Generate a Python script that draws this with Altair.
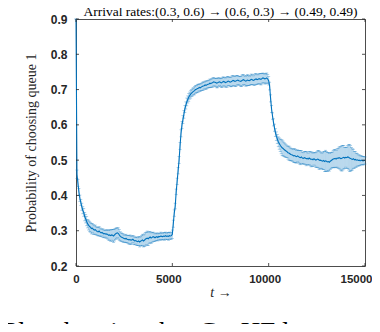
import altair as alt
import pandas as pd

# time step of the samples
t_step = 50

# mean probability, rows of 10 samples (500 time units per row)
prob = [
    0.900, 0.460, 0.435, 0.410, 0.392, 0.380, 0.368, 0.358, 0.352, 0.340,
    0.334, 0.327, 0.320, 0.316, 0.312, 0.310, 0.306, 0.307, 0.304, 0.302,
    0.303, 0.300, 0.298, 0.297, 0.299, 0.296, 0.294, 0.295, 0.293, 0.291,
    0.292, 0.290, 0.291, 0.289, 0.287, 0.288, 0.286, 0.288, 0.287, 0.285,
    0.288, 0.291, 0.293, 0.294, 0.292, 0.288, 0.284, 0.282, 0.281, 0.279,
    0.278, 0.277, 0.278, 0.276, 0.275, 0.274, 0.275, 0.273, 0.274, 0.276,
    0.273, 0.271, 0.272, 0.270, 0.269, 0.271, 0.268, 0.270, 0.272, 0.274,
    0.271, 0.273, 0.276, 0.278, 0.279, 0.277, 0.280, 0.282, 0.279, 0.281,
    0.283, 0.282, 0.280, 0.282, 0.283, 0.281, 0.284, 0.283, 0.285, 0.284,
    0.283, 0.285, 0.284, 0.286, 0.284, 0.285, 0.284, 0.286, 0.285, 0.286,
    0.290, 0.320, 0.350, 0.370, 0.410, 0.440, 0.470, 0.500, 0.540, 0.576,
    0.600, 0.615, 0.630, 0.645, 0.655, 0.665, 0.672, 0.678, 0.683, 0.687,
    0.690, 0.693, 0.695, 0.697, 0.700, 0.701, 0.703, 0.704, 0.706, 0.705,
    0.707, 0.709, 0.710, 0.711, 0.713, 0.712, 0.714, 0.715, 0.716, 0.718,
    0.717, 0.719, 0.720, 0.722, 0.721, 0.720, 0.718, 0.719, 0.721, 0.722,
    0.720, 0.719, 0.721, 0.723, 0.722, 0.720, 0.721, 0.722, 0.724, 0.723,
    0.721, 0.722, 0.724, 0.726, 0.725, 0.723, 0.724, 0.726, 0.727, 0.725,
    0.724, 0.723, 0.725, 0.727, 0.728, 0.726, 0.724, 0.725, 0.727, 0.726,
    0.725, 0.727, 0.729, 0.728, 0.726, 0.727, 0.729, 0.730, 0.728, 0.729,
    0.731, 0.730, 0.729, 0.731, 0.733, 0.732, 0.730, 0.731, 0.733, 0.730,
    0.725, 0.710, 0.675, 0.645, 0.625, 0.607, 0.592, 0.578, 0.568, 0.560,
    0.552, 0.547, 0.542, 0.538, 0.535, 0.533, 0.530, 0.528, 0.526, 0.524,
    0.521, 0.520, 0.518, 0.516, 0.515, 0.514, 0.512, 0.513, 0.511, 0.510,
    0.512, 0.510, 0.508, 0.507, 0.509, 0.506, 0.505, 0.507, 0.506, 0.504,
    0.505, 0.503, 0.506, 0.504, 0.502, 0.503, 0.501, 0.504, 0.502, 0.500,
    0.502, 0.503, 0.501, 0.499, 0.500, 0.498, 0.497, 0.499, 0.496, 0.498,
    0.497, 0.495, 0.496, 0.494, 0.497, 0.499, 0.501, 0.503, 0.504, 0.505,
    0.503, 0.506, 0.505, 0.507, 0.506, 0.504, 0.505, 0.507, 0.508, 0.506,
    0.508, 0.507, 0.509, 0.508, 0.506, 0.505, 0.503, 0.502, 0.504, 0.501,
    0.502, 0.500, 0.501, 0.499, 0.500, 0.498, 0.500, 0.499, 0.498, 0.499,
    0.499,
]

# error-bar half widths, same layout
err = [
    0.000, 0.012, 0.010, 0.010, 0.009, 0.009, 0.010, 0.010, 0.011, 0.012,
    0.012, 0.013, 0.012, 0.014, 0.015, 0.014, 0.015, 0.013, 0.014, 0.012,
    0.013, 0.012, 0.011, 0.012, 0.013, 0.012, 0.011, 0.010, 0.012, 0.011,
    0.010, 0.011, 0.012, 0.013, 0.014, 0.015, 0.016, 0.015, 0.017, 0.018,
    0.017, 0.016, 0.015, 0.014, 0.016, 0.015, 0.013, 0.012, 0.011, 0.012,
    0.010, 0.011, 0.012, 0.010, 0.011, 0.012, 0.013, 0.012, 0.011, 0.010,
    0.012, 0.011, 0.010, 0.012, 0.011, 0.013, 0.014, 0.013, 0.015, 0.016,
    0.017, 0.018, 0.019, 0.018, 0.020, 0.019, 0.017, 0.016, 0.015, 0.014,
    0.013, 0.012, 0.011, 0.010, 0.011, 0.010, 0.009, 0.010, 0.011, 0.010,
    0.009, 0.010, 0.011, 0.010, 0.009, 0.010, 0.011, 0.010, 0.009, 0.010,
    0.012, 0.010, 0.009, 0.008, 0.008, 0.009, 0.009, 0.010, 0.010, 0.010,
    0.010, 0.011, 0.011, 0.010, 0.010, 0.011, 0.010, 0.011, 0.010, 0.011,
    0.010, 0.011, 0.010, 0.012, 0.011, 0.010, 0.012, 0.011, 0.010, 0.011,
    0.010, 0.011, 0.012, 0.010, 0.011, 0.012, 0.011, 0.010, 0.011, 0.012,
    0.011, 0.012, 0.013, 0.012, 0.011, 0.012, 0.013, 0.014, 0.012, 0.011,
    0.012, 0.013, 0.014, 0.013, 0.012, 0.013, 0.014, 0.015, 0.013, 0.012,
    0.013, 0.014, 0.015, 0.014, 0.013, 0.014, 0.015, 0.014, 0.013, 0.012,
    0.013, 0.014, 0.016, 0.015, 0.014, 0.013, 0.014, 0.015, 0.016, 0.014,
    0.013, 0.014, 0.015, 0.014, 0.013, 0.015, 0.016, 0.015, 0.014, 0.013,
    0.014, 0.015, 0.016, 0.015, 0.014, 0.013, 0.014, 0.015, 0.014, 0.013,
    0.012, 0.011, 0.010, 0.010, 0.009, 0.010, 0.010, 0.011, 0.012, 0.013,
    0.014, 0.016, 0.018, 0.020, 0.022, 0.021, 0.020, 0.019, 0.018, 0.017,
    0.018, 0.020, 0.019, 0.018, 0.017, 0.018, 0.019, 0.020, 0.019, 0.018,
    0.017, 0.018, 0.019, 0.020, 0.018, 0.017, 0.016, 0.018, 0.019, 0.020,
    0.018, 0.017, 0.019, 0.020, 0.021, 0.020, 0.019, 0.018, 0.019, 0.021,
    0.022, 0.024, 0.026, 0.025, 0.023, 0.022, 0.024, 0.026, 0.028, 0.030,
    0.028, 0.027, 0.026, 0.025, 0.024, 0.023, 0.022, 0.024, 0.026, 0.025,
    0.024, 0.026, 0.028, 0.030, 0.032, 0.034, 0.036, 0.035, 0.033, 0.030,
    0.028, 0.030, 0.033, 0.036, 0.038, 0.036, 0.033, 0.030, 0.027, 0.024,
    0.022, 0.020, 0.018, 0.016, 0.015, 0.014, 0.013, 0.012, 0.012, 0.011,
    0.010,
]

x_ticks = [0, 5000, 10000, 15000]
y_ticks = [0.2, 0.3, 0.4, 0.5, 0.6, 0.7, 0.8, 0.9]

title_text = "Arrival rates:(0.3, 0.6) \u2192 (0.6, 0.3) \u2192 (0.49, 0.49)"
y_title = "Probability of choosing queue 1"
x_title = "t \u2192"
caption = "Plot showing that CaaHF learns"

n = min(len(prob), len(err))
df = pd.DataFrame({
    "t": [i * t_step for i in range(n)],
    "p": prob[:n],
    "lo": [prob[i] - err[i] for i in range(n)],
    "hi": [prob[i] + err[i] for i in range(n)],
})

W, H = 289, 247
BLUE = "#0072BD"
AX = "#262626"
SANS = "Liberation Sans"
SERIF = "Liberation Serif"

xs = alt.Scale(domain=[0, 15000], nice=False)
ys = alt.Scale(domain=[0.2, 0.9], nice=False)

xaxis = alt.Axis(values=x_ticks, ticks=False, domain=False, grid=False,
                 format="d", labelOverlap=False,
                 labelFont=SANS, labelFontSize=11.5, labelFontWeight="bold",
                 labelColor=AX, labelPadding=7, labelFlush=False,
                 labelAlign={"expr": "datum.value == 15000 ? 'right' : 'center'"},
                 labelOffset={"expr": "datum.value == 15000 ? 7 : (datum.value == 0 ? 0 : -4)"},
                 title=x_title, titleFont=SERIF, titleFontSize=14,
                 titleFontWeight="normal", titleFontStyle="italic",
                 titleColor=AX, titlePadding=1)
yaxis = alt.Axis(values=y_ticks, ticks=False, domain=False, grid=False,
                 format=".1f", labelOverlap=False, labelFont=SANS,
                 labelFontSize=12, labelFontWeight="bold", labelColor=AX,
                 labelPadding=9, labelFlush=False,
                 title=y_title, titleFont=SERIF, titleFontSize=14,
                 titleFontWeight="normal", titleColor=AX, titlePadding=12)


def X(field):
    return alt.X(field, scale=xs, axis=xaxis)


def Y(field):
    return alt.Y(field, scale=ys, axis=yaxis)


base = alt.Chart(df)

bars = base.mark_rule(color=BLUE, opacity=0.4, strokeWidth=0.7).encode(
    x=X("t:Q"), y=Y("lo:Q"), y2="hi:Q",
)
cap_lo = base.mark_tick(color=BLUE, opacity=0.45, orient="horizontal",
                        size=3, thickness=0.7).encode(x=X("t:Q"), y=Y("lo:Q"))
cap_hi = base.mark_tick(color=BLUE, opacity=0.45, orient="horizontal",
                        size=3, thickness=0.7).encode(x=X("t:Q"), y=Y("hi:Q"))
line = base.mark_line(color=BLUE, strokeWidth=1.1).encode(
    x=X("t:Q"), y=Y("p:Q"))

# inward ticks (MATLAB style box)
yt = pd.DataFrame({"v": y_ticks})
xt = pd.DataFrame({"v": x_ticks})
tick_l = alt.Chart(yt).mark_rule(color=AX, strokeWidth=0.8).encode(
    y=Y("v:Q"), x=alt.value(0), x2=alt.value(3))
tick_r = alt.Chart(yt).mark_rule(color=AX, strokeWidth=0.8).encode(
    y=Y("v:Q"), x=alt.value(W - 3), x2=alt.value(W))
tick_b = alt.Chart(xt).mark_rule(color=AX, strokeWidth=0.8).encode(
    x=X("v:Q"), y=alt.value(H - 3), y2=alt.value(H))
tick_t = alt.Chart(xt).mark_rule(color=AX, strokeWidth=0.8).encode(
    x=X("v:Q"), y=alt.value(0), y2=alt.value(3))

title_mark = alt.Chart(pd.DataFrame({"c": [title_text]})).mark_text(
    font=SERIF, fontSize=13.5, align="center", baseline="alphabetic",
    color="#000000").encode(
    text="c:N", x=alt.value(W / 2), y=alt.value(-3))

cap_text = alt.Chart(pd.DataFrame({"c": [caption]})).mark_text(
    font=SERIF, fontSize=27, align="left", baseline="alphabetic",
    color="#000000").encode(
    text="c:N", x=alt.value(-73), y=alt.value(322))

chart = alt.layer(
    bars, cap_lo, cap_hi, line, tick_l, tick_r, tick_b, tick_t,
    title_mark, cap_text
).properties(
    width=W, height=H,
    autosize=alt.AutoSizeParams(type="none"),
    padding={"left": 68, "top": 11, "right": 7, "bottom": 58},
).configure_view(stroke="#4d4d4d", strokeWidth=1)

chart.save("out.html", embed_options={"renderer": "svg", "actions": False})
